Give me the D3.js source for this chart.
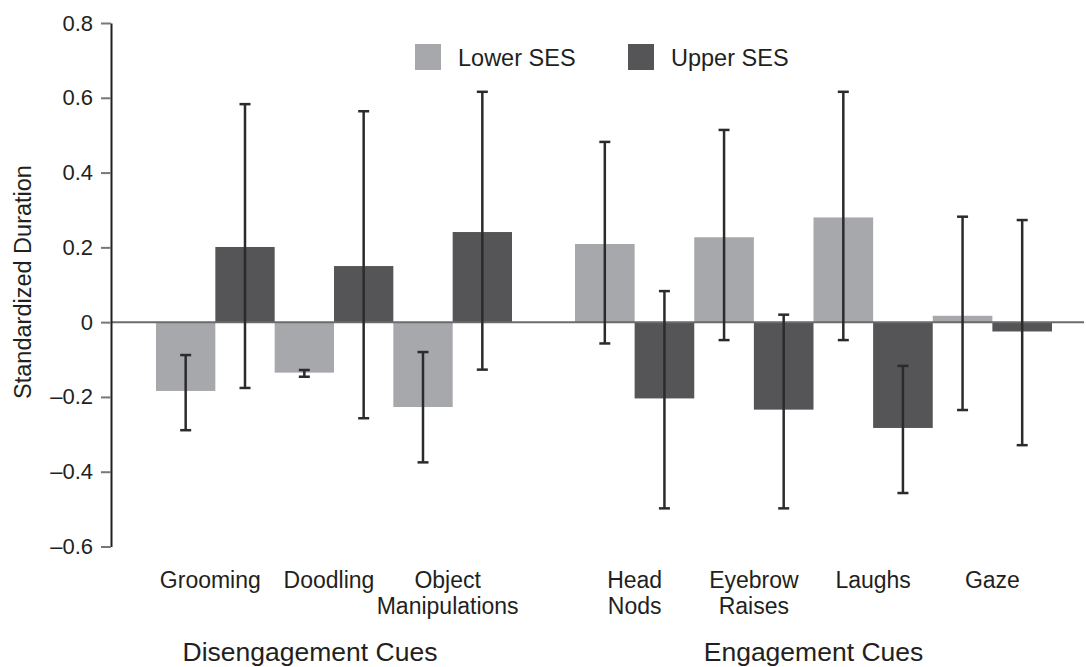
<!DOCTYPE html>
<html>
<head>
<meta charset="utf-8">
<script src="https://cdn.jsdelivr.net/npm/d3@7"></script>
<style>
  body { margin: 0; background: #fff; }
  svg text { font-family: "Liberation Sans", Arial, sans-serif; fill: #231f20; }
</style>
</head>
<body>
<div id="chart"></div>
<script>
// dados
const categorias = ["Grooming", "Doodling", "Object Manipulations", "Head Nods", "Eyebrow Raises", "Laughs", "Gaze"];
const grupos = ["Disengagement Cues", "Engagement Cues"];
const grupoDe = [0, 0, 0, 1, 1, 1, 1];
const series = ["Lower SES", "Upper SES"];

const lowerMedia = [-0.184, -0.135, -0.227, 0.209, 0.227, 0.280, 0.017];
const lowerInf   = [-0.289, -0.146, -0.375, -0.057, -0.048, -0.048, -0.235];
const lowerSup   = [-0.088, -0.128, -0.080, 0.482, 0.514, 0.616, 0.282];

const upperMedia = [0.201, 0.150, 0.241, -0.204, -0.234, -0.283, -0.025];
const upperInf   = [-0.176, -0.257, -0.127, -0.498, -0.498, -0.457, -0.329];
const upperSup   = [0.583, 0.564, 0.616, 0.083, 0.020, -0.117, 0.273];

const yTicks = [-0.6, -0.4, -0.2, 0, 0.2, 0.4, 0.6, 0.8];

const width = 1086, height = 667;
const cores = { "Lower SES": "#a7a8ab", "Upper SES": "#555557" };

const svg = d3.select("#chart").append("svg")
    .attr("width", width)
    .attr("height", height);

// Escalas
const yScale = d3.scaleLinear()
    .domain([-0.6, 0.8])
    .range([546.5, 23]);

// uma escala de banda por grupo de pistas
const faixas = [[156, 512], [575, 1052]];
const xGrupo = grupos.map((g, gi) => d3.scaleBand()
    .domain(categorias.filter((c, i) => grupoDe[i] === gi))
    .range(faixas[gi])
    .padding(0));

function xCat(i) { return xGrupo[grupoDe[i]]; }

const xSerie = d3.scaleBand()
    .domain(series)
    .range([0, 1]);

const dados = [];
categorias.forEach((c, i) => {
    dados.push({ cat: c, i, serie: "Lower SES", v: lowerMedia[i], lo: lowerInf[i], hi: lowerSup[i] });
    dados.push({ cat: c, i, serie: "Upper SES", v: upperMedia[i], lo: upperInf[i], hi: upperSup[i] });
});

function xBarra(d) {
    const xs = xCat(d.i);
    return xs(d.cat) + xSerie(d.serie) * xs.bandwidth();
}
function larguraBarra(d) { return xCat(d.i).bandwidth() * xSerie.bandwidth(); }

// Barras
svg.append("g")
    .selectAll("rect")
    .data(dados)
    .join("rect")
    .attr("x", d => xBarra(d))
    .attr("width", d => larguraBarra(d))
    .attr("y", d => yScale(Math.max(0, d.v)))
    .attr("height", d => Math.abs(yScale(d.v) - yScale(0)))
    .attr("fill", d => cores[d.serie]);

// Linha do zero
svg.append("line")
    .attr("x1", 111).attr("x2", 1084)
    .attr("y1", yScale(0)).attr("y2", yScale(0))
    .attr("stroke", "#6b6b6b")
    .attr("stroke-width", 2);

// Barras de erro
const erro = svg.append("g")
    .attr("stroke", "#2b2b2b")
    .attr("stroke-width", 2.5);

dados.forEach(d => {
    const cx = xBarra(d) + larguraBarra(d) / 2;
    erro.append("line")
        .attr("x1", cx).attr("x2", cx)
        .attr("y1", yScale(d.hi)).attr("y2", yScale(d.lo));
    [d.hi, d.lo].forEach(v => {
        erro.append("line")
            .attr("x1", cx - 5.5).attr("x2", cx + 5.5)
            .attr("y1", yScale(v)).attr("y2", yScale(v));
    });
});

// Eixo Y
const eixoY = svg.append("g")
    .attr("transform", "translate(111, 0)")
    .call(d3.axisLeft(yScale)
        .tickValues(yTicks)
        .tickSize(10)
        .tickSizeOuter(0)
        .tickPadding(8)
        .tickFormat(d => d === 0 ? "0" : d3.format(".1f")(d).replace("\u2212", "\u2013")));

eixoY.select(".domain")
    .attr("stroke", "#231f20")
    .attr("stroke-width", 2);
eixoY.selectAll(".tick line")
    .attr("stroke", "#777")
    .attr("stroke-width", 2);
eixoY.selectAll(".tick text")
    .attr("font-size", 22)
    .attr("fill", "#231f20");

svg.append("text")
    .attr("transform", "translate(31, 282) rotate(-90)")
    .attr("text-anchor", "middle")
    .attr("font-size", 23.5)
    .text("Standardized Duration");

// Rótulos das categorias
const ajusteCat = [-5, 0];
categorias.forEach((c, i) => {
    const xs = xCat(i);
    const cx = xs(c) + xs.bandwidth() / 2 + ajusteCat[grupoDe[i]];
    const linhas = c.split(" ");
    const t = svg.append("text")
        .attr("text-anchor", "middle")
        .attr("font-size", 23);
    linhas.forEach((l, k) => {
        t.append("tspan")
            .attr("x", cx)
            .attr("y", 588 + k * 26)
            .text(l);
    });
});

// Rótulos dos grupos
const ajusteGrupo = [-24, 0];
grupos.forEach((g, gi) => {
    const r = xGrupo[gi].range();
    svg.append("text")
        .attr("x", (r[0] + r[1]) / 2 + ajusteGrupo[gi])
        .attr("y", 661)
        .attr("text-anchor", "middle")
        .attr("font-size", 26.5)
        .text(g);
});

// Legenda
const legX = [415, 628];
series.forEach((s, si) => {
    svg.append("rect")
        .attr("x", legX[si]).attr("y", 44)
        .attr("width", 26).attr("height", 26)
        .attr("fill", cores[s]);
    svg.append("text")
        .attr("x", legX[si] + 43)
        .attr("y", 66)
        .attr("font-size", 23.5)
        .text(s);
});
</script>
</body>
</html>
